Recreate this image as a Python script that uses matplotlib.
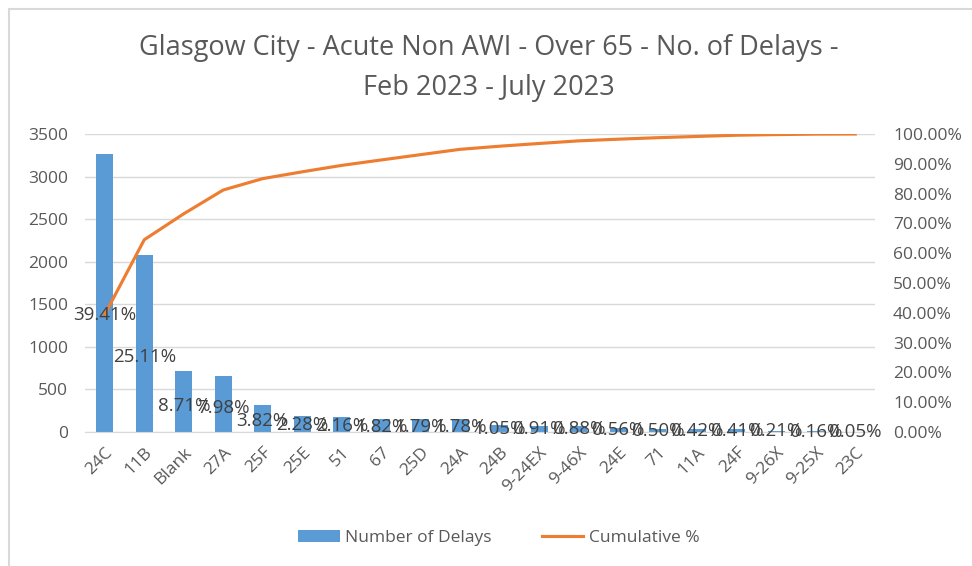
import matplotlib.pyplot as plt
import numpy as np
from matplotlib.patches import Rectangle
from matplotlib.ticker import FuncFormatter

# categories and delays
codes = ["24C", "11B", "Blank", "27A", "25F", "25E", "51", "67", "25D", "24A",
         "24B", "9-24EX", "9-46X", "24E", "71", "11A", "24F", "9-26X", "9-25X", "23C"]
delays = [3260, 2077, 720, 660, 316, 189, 179, 151, 148, 147,
          87, 75, 73, 46, 41, 35, 34, 17, 13, 4]
# share of each category, as printed on the labels
share_pct = [39.41, 25.11, 8.71, 7.98, 3.82, 2.28, 2.16, 1.82, 1.79, 1.78,
             1.05, 0.91, 0.88, 0.56, 0.50, 0.42, 0.41, 0.21, 0.16, 0.05]
cumulative = np.cumsum(share_pct) / 100.0
cumulative = np.minimum(cumulative, 1.0)

text_grey = "#595959"
bar_blue = "#5B9BD5"
line_orange = "#ED7D31"
plt.rcParams['font.family'] = ['Open Sans', 'DejaVu Sans']

fig = plt.figure(figsize=(9.72, 5.66), dpi=100)
# chart frame, as in the Excel screenshot
fig.patches.append(Rectangle((9 / 972, -0.1), 1.2, 1.1 - 9 / 566,
                             transform=fig.transFigure, fill=False,
                             edgecolor="#D9D9D9", linewidth=1.5))

ax = fig.add_axes([85 / 972, 1 - 432 / 566, 790 / 972, 298 / 566])
x = np.arange(len(codes))
bars = ax.bar(x, delays, width=0.42, color=bar_blue, label="Number of Delays", zorder=2)
ax.set_ylim(0, 3500)
ax.set_yticks(np.arange(0, 3501, 500))
ax.set_xlim(-0.5, len(codes) - 0.5)
ax.grid(axis="y", color="#D9D9D9", linewidth=1, zorder=0)
ax.set_xticks(x)
ax.set_xticklabels(codes, rotation=45, ha="right", rotation_mode="anchor")
ax.tick_params(axis="both", length=0, colors=text_grey, labelsize=12.5)
ax.tick_params(axis="y", pad=12)
ax.tick_params(axis="x", pad=9)
for s in ax.spines.values():
    s.set_visible(False)
ax.spines["bottom"].set_visible(True)
ax.spines["bottom"].set_color("#D9D9D9")

ax2 = ax.twinx()
line, = ax2.plot(x, cumulative, color=line_orange, linewidth=2.25,
                 label="Cumulative %", zorder=3)
ax2.set_ylim(0, 1)
ax2.set_yticks(np.arange(0, 1.01, 0.1))
ax2.yaxis.set_major_formatter(FuncFormatter(lambda v, p: f"{v * 100:.2f}%"))
ax2.tick_params(axis="y", length=0, colors=text_grey, labelsize=12.5, pad=13)
for s in ax2.spines.values():
    s.set_visible(False)

# percentage labels of each category
for xi, p in zip(x, share_pct):
    ax2.text(xi, p / 100.0, f"{p:.2f}%", ha="center", va="center",
             fontsize=13.5, color="#404040", zorder=4)

fig.suptitle("Glasgow City - Acute Non AWI - Over 65 - No. of Delays -\nFeb 2023 - July 2023",
             x=0.503, y=0.94, fontsize=19.5, color=text_grey, linespacing=1.55)

fig.legend(handles=[bars, line], loc="center", bbox_to_anchor=(0.513, 0.049),
           ncol=2, frameon=False, fontsize=12.5, labelcolor=text_grey,
           handlelength=2.4, handletextpad=0.3, columnspacing=2.9)

fig.savefig("out.png", dpi=100)
